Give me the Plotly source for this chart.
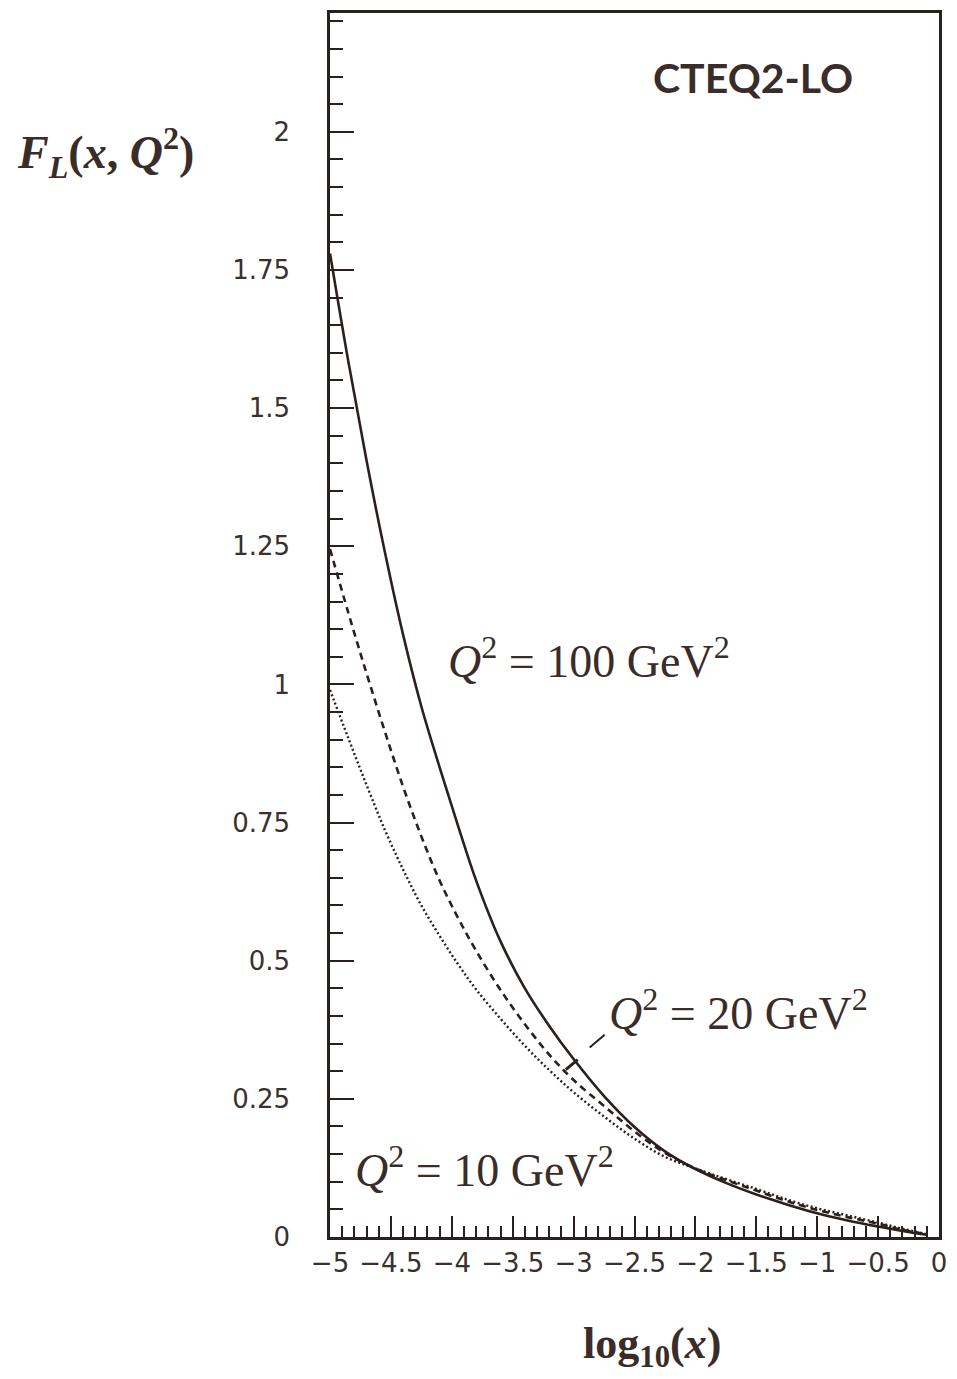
import plotly.graph_objects as go

# ---- data ----
log10_x = [-5.0, -4.85, -4.7, -4.55, -4.4, -4.25, -4.1, -3.95, -3.8, -3.6, -3.4, -3.2,
           -3.0, -2.75, -2.5, -2.25, -2.0, -1.75, -1.5, -1.25, -1.0, -0.75, -0.5, -0.3, -0.1]
fl_q2_100 = [1.78, 1.585, 1.405, 1.24, 1.09, 0.96, 0.85, 0.745, 0.645, 0.535, 0.45, 0.382,
             0.322, 0.255, 0.199, 0.155, 0.123, 0.098, 0.077, 0.059, 0.043, 0.030, 0.019, 0.011, 0.004]
fl_q2_20 = [1.245, 1.13, 1.02, 0.915, 0.815, 0.725, 0.645, 0.578, 0.518, 0.447, 0.385, 0.33,
            0.284, 0.237, 0.191, 0.152, 0.124, 0.103, 0.084, 0.065, 0.049, 0.036, 0.024, 0.013, 0.005]
fl_q2_10 = [0.99, 0.903, 0.818, 0.737, 0.665, 0.6, 0.545, 0.494, 0.448, 0.395, 0.346, 0.302,
            0.262, 0.218, 0.178, 0.145, 0.124, 0.105, 0.087, 0.068, 0.052, 0.039, 0.026, 0.015, 0.005]

x_tick_vals = [-5, -4.5, -4, -3.5, -3, -2.5, -2, -1.5, -1, -0.5, 0]
x_tick_text = ["\u22125", "\u22124.5", "\u22124", "\u22123.5", "\u22123", "\u22122.5",
               "\u22122", "\u22121.5", "\u22121", "\u22120.5", "0"]
y_tick_vals = [0, 0.25, 0.5, 0.75, 1, 1.25, 1.5, 1.75, 2]
y_tick_text = ["0", "0.25", "0.5", "0.75", "1", "1.25", "1.5", "1.75", "2"]

INK = "#2b201d"
TXT = "#3a2c28"
SERIF = "Liberation Serif, Times New Roman, serif"

fig = go.Figure()
fig.add_trace(go.Scatter(x=log10_x, y=fl_q2_100, mode="lines", name="Q2=100",
                         line=dict(color=INK, width=2.6, shape="spline", smoothing=1.0)))
fig.add_trace(go.Scatter(x=log10_x, y=fl_q2_20, mode="lines", name="Q2=20",
                         line=dict(color=INK, width=2.6, dash="7px,5px", shape="spline", smoothing=1.0)))
fig.add_trace(go.Scatter(x=log10_x, y=fl_q2_10, mode="lines", name="Q2=10",
                         line=dict(color=INK, width=2.4, dash="2px,2.5px", shape="spline", smoothing=1.0)))

tickfont = dict(family="DejaVu Sans, sans-serif", size=26, color="#3a302d")

fig.update_xaxes(range=[-5, 0], tickvals=x_tick_vals, ticktext=x_tick_text,
                 ticks="inside", ticklen=21, tickwidth=2, tickcolor=INK,
                 minor=dict(dtick=0.1, tick0=0, ticks="inside", ticklen=11, tickwidth=2, tickcolor=INK),
                 showline=True, linecolor=INK, linewidth=2.5, mirror=True,
                 showgrid=False, zeroline=False, tickfont=tickfont, ticklabelstandoff=1)
fig.update_yaxes(range=[0, 2.215], tickvals=y_tick_vals, ticktext=y_tick_text,
                 ticks="inside", ticklen=24, tickwidth=2, tickcolor=INK,
                 minor=dict(dtick=0.05, tick0=0, ticks="inside", ticklen=13, tickwidth=2, tickcolor=INK),
                 showline=True, linecolor=INK, linewidth=2.5, mirror=True,
                 showgrid=False, zeroline=False, tickfont=tickfont, ticklabelstandoff=32)

annots = [
    dict(x=-1.53, y=2.098, xref="x", yref="y", text="<b>CTEQ2-LO</b>", showarrow=False,
         xanchor="center", yanchor="middle",
         font=dict(family="Lato, sans-serif", size=41, color=TXT)),
    dict(x=-2.876, y=1.047, xref="x", yref="y",
         text="<i>Q</i><sup>2</sup> = 100 GeV<sup>2</sup>", showarrow=False,
         xanchor="center", yanchor="middle",
         font=dict(family=SERIF, size=46, color=TXT)),
    dict(x=-1.65, y=0.41, xref="x", yref="y",
         text="<i>Q</i><sup>2</sup> = 20 GeV<sup>2</sup>", showarrow=False,
         xanchor="center", yanchor="middle",
         font=dict(family=SERIF, size=46, color=TXT)),
    dict(x=-3.734, y=0.126, xref="x", yref="y",
         text="<i>Q</i><sup>2</sup> = 10 GeV<sup>2</sup>", showarrow=False,
         xanchor="center", yanchor="middle",
         font=dict(family=SERIF, size=46, color=TXT)),
    dict(x=-0.368, y=0.886, xref="paper", yref="paper",
         text="<b><i>F</i></b><sub><b><i>L</i></b></sub><b>(<i>x</i>, <i>Q</i><sup>2</sup>)</b>",
         showarrow=False, xanchor="center", yanchor="middle",
         font=dict(family=SERIF, size=46, color=TXT)),
    dict(x=0.528, y=-0.0898, xref="paper", yref="paper",
         text="<b>log<sub>10</sub>(<i>x</i>)</b>", showarrow=False,
         xanchor="center", yanchor="middle",
         font=dict(family=SERIF, size=44, color=TXT)),
]
fig.update_layout(annotations=annots)

fig.add_shape(type="line", xref="x", yref="y", x0=-2.868, y0=0.343, x1=-2.745, y1=0.366,
              line=dict(color=INK, width=2))
fig.add_shape(type="line", xref="x", yref="y", x0=-3.064, y0=0.303, x1=-2.966, y1=0.321,
              line=dict(color=INK, width=3))

fig.update_layout(width=957, height=1379, margin=dict(l=330, r=15, t=10, b=142),
                  plot_bgcolor="white", paper_bgcolor="white", showlegend=False)

fig.write_html("out.html")
